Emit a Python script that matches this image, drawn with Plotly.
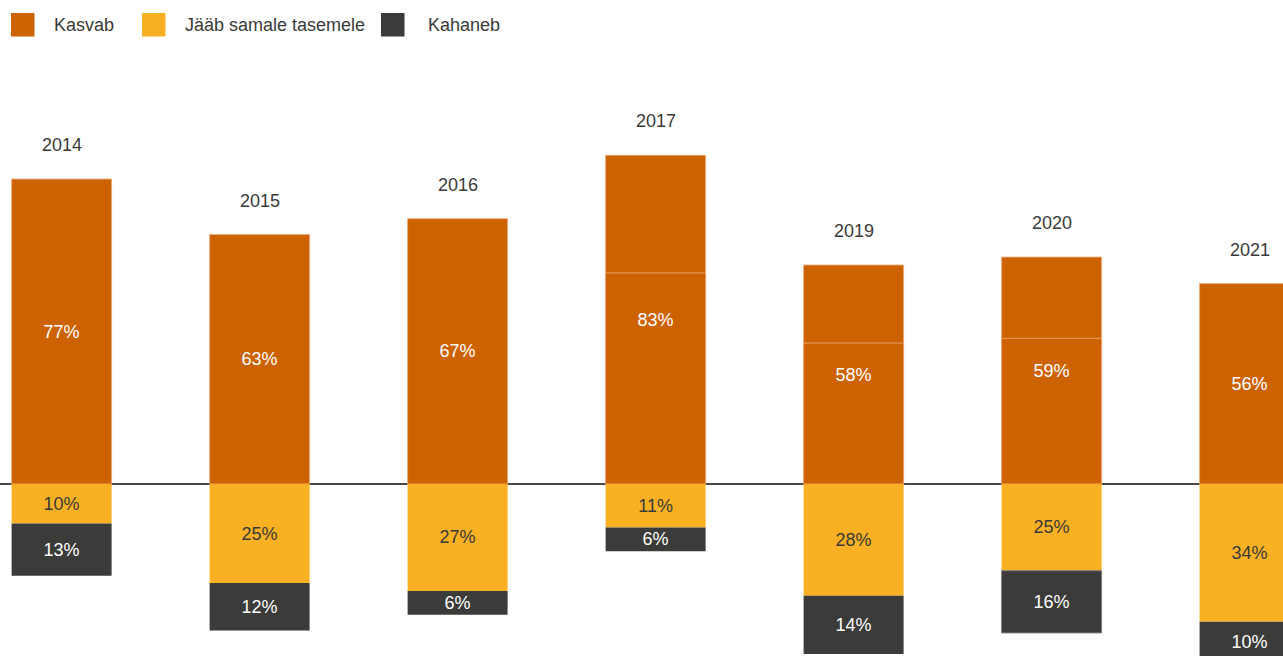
import plotly.graph_objects as go

# ---------------- data ----------------
years = ["2014", "2015", "2016", "2017", "2019", "2020", "2021"]
series_names = ["Kasvab", "Jääb samale tasemele", "Kahaneb"]

# labelled percentages
kasvab_label = [77, 63, 67, 83, 58, 59, 56]
jaab_label = [10, 25, 27, 11, 28, 25, 34]
kahaneb_label = [13, 12, 6, 6, 14, 16, 10]

# bar lengths as drawn in the picture (percentage units)
kasvab_bar = [77, 63, 67, 83, 55.3, 57.3, 50.6]
jaab_bar = [10, 25, 27, 11, 28.2, 21.9, 34.8]
kahaneb_bar = [13.2, 12, 6, 6, 14.7, 15.7, 10]

# faint inner division visible inside some orange bars
kasvab_split = [None, None, None, 53.3, 35.6, 36.8, None]

# ---------------- styles ----------------
C_ORANGE = "#cd6200"
C_YELLOW = "#f9b023"
C_DARK = "#3b3b39"
C_TEXT = "#3a3a3a"
FONT = "Liberation Sans, Arial, Helvetica, sans-serif"
W, H = 1283, 656
PX_PER_UNIT = 3.96
ZERO_PX = 484
BAR_W = 0.505

fig = go.Figure()

orange_line = dict(color="rgba(238,170,120,0.85)", width=1)

fig.add_trace(go.Bar(
    x=years, y=kasvab_bar, base=[0] * len(years), name=series_names[0],
    marker=dict(color=C_ORANGE, line=orange_line), width=BAR_W,
    hoverinfo="skip", showlegend=False,
))
fig.add_trace(go.Bar(
    x=years, y=kasvab_split, base=[0] * len(years), name=series_names[0],
    marker=dict(color=C_ORANGE, line=orange_line), width=BAR_W,
    hoverinfo="skip", showlegend=False,
))
fig.add_trace(go.Bar(
    x=years, y=[-v for v in jaab_bar], base=[0] * len(years), name=series_names[1],
    marker=dict(color=C_YELLOW, line=dict(width=0)), width=BAR_W,
    text=[f"{v}%" for v in jaab_label], textposition="inside",
    insidetextanchor="middle", textangle=0,
    textfont=dict(color=C_TEXT, size=18, family=FONT),
    hoverinfo="skip", showlegend=False,
))
fig.add_trace(go.Bar(
    x=years, y=[-v for v in kahaneb_bar], base=[-v for v in jaab_bar],
    name=series_names[2],
    marker=dict(color=C_DARK,
                line=dict(color=["rgba(0,0,0,0)"] * 5 + ["#7a7a7a", "rgba(0,0,0,0)"],
                          width=1)),
    width=BAR_W,
    text=[f"{v}%" for v in kahaneb_label], textposition="inside",
    insidetextanchor="middle", textangle=0,
    textfont=dict(color="#ffffff", size=18, family=FONT),
    hoverinfo="skip", showlegend=False,
))
# labels of the orange bars (drawn last so they sit on top)
fig.add_trace(go.Bar(
    x=years, y=kasvab_bar, base=[0] * len(years), name=series_names[0],
    marker=dict(color="rgba(0,0,0,0)", line=dict(width=0)), width=BAR_W,
    text=[f"{v}%" for v in kasvab_label], textposition="inside",
    insidetextanchor="middle", textangle=0,
    textfont=dict(color="#ffffff", size=18, family=FONT),
    hoverinfo="skip", showlegend=False,
))

# year labels above the bars (category axis -> use category index)
annotations = []
for i, (yr, top) in enumerate(zip(years, kasvab_bar)):
    annotations.append(dict(
        x=i, y=top, xref="x", yref="y", text=yr, showarrow=False,
        xanchor="center", yanchor="middle", yshift=34,
        font=dict(size=18, color=C_TEXT, family=FONT),
    ))

# custom legend (large square swatches)
shapes = []
legend_colors = [C_ORANGE, C_YELLOW, C_DARK]
sq_x = [11, 142, 381]
txt_x = [52, 183, 426]
sq_size = 23.5
sq_top = 13
for name, col, sx, tx in zip(series_names, legend_colors, sq_x, txt_x):
    shapes.append(dict(
        type="rect", xref="paper", yref="paper",
        x0=sx / W, x1=(sx + sq_size) / W,
        y0=1 - (sq_top + sq_size) / H, y1=1 - sq_top / H,
        fillcolor=col, line=dict(width=0), layer="above",
    ))
    annotations.append(dict(
        x=tx / W, y=1 - (sq_top + sq_size / 2) / H, xref="paper", yref="paper",
        text=name, showarrow=False, xanchor="left", yanchor="middle",
        font=dict(size=18, color=C_TEXT, family=FONT),
    ))

y_top = ZERO_PX / PX_PER_UNIT
y_bot = -(H - ZERO_PX) / PX_PER_UNIT
x_left = -61.6 / 198
x_right = x_left + W / 198

fig.update_layout(
    width=W, height=H,
    margin=dict(l=0, r=0, t=0, b=0, pad=0),
    paper_bgcolor="white", plot_bgcolor="white",
    barmode="overlay",
    showlegend=False,
    font=dict(family=FONT, size=18, color=C_TEXT),
    uniformtext=dict(minsize=18, mode="show"),
    xaxis=dict(type="category", range=[x_left, x_right], visible=False,
               fixedrange=True),
    yaxis=dict(range=[y_bot, y_top], showgrid=False, showticklabels=False,
               ticks="", showline=False, zeroline=True,
               zerolinecolor="#4a4a4a", zerolinewidth=2, fixedrange=True),
    annotations=annotations,
    shapes=shapes,
)

fig.write_html(
    "out.html",
    config={"displayModeBar": False},
    post_script="document.body.style.margin='0';document.body.style.overflow='hidden';",
)
